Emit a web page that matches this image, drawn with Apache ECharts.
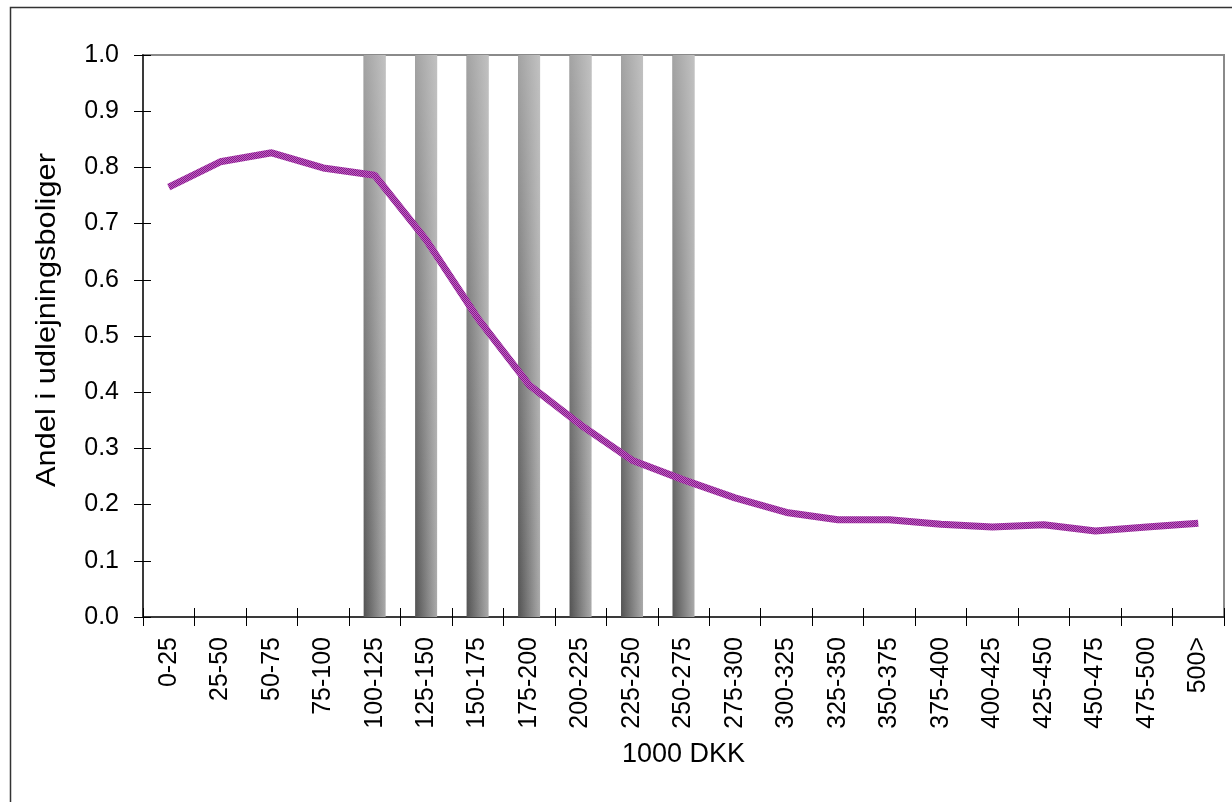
<!DOCTYPE html>
<html>
<head>
<meta charset="utf-8">
<script src="https://cdn.jsdelivr.net/npm/echarts@6/dist/echarts.min.js"></script>
<style>
  html, body { margin: 0; padding: 0; background: #fff; }
  #chart { width: 1232px; height: 802px; }
</style>
</head>
<body>
<div id="chart"></div>
<script>
// Income brackets (1000 DKK)
const categories = ['0-25','25-50','50-75','75-100','100-125','125-150','150-175','175-200',
  '200-225','225-250','250-275','275-300','300-325','325-350','350-375','375-400',
  '400-425','425-450','450-475','475-500','500>'];

// Share of households living in rental housing
const shareRental = [0.765, 0.81, 0.826, 0.799, 0.786, 0.671, 0.532, 0.413, 0.342, 0.279,
  0.244, 0.212, 0.186, 0.173, 0.173, 0.165, 0.160, 0.164, 0.153, 0.160, 0.167];

// Highlighted brackets (full-height shaded columns)
const highlight = [null, null, null, null, 1, 1, 1, 1, 1, 1, 1,
  null, null, null, null, null, null, null, null, null, null];

const yTicks = { min: 0, max: 1, interval: 0.1 };

const FONT = '"Liberation Sans", Arial, sans-serif';

// Fine checkered texture for the line stroke
function checkerPattern() {
  const c = document.createElement('canvas');
  c.width = 2; c.height = 2;
  const g = c.getContext('2d');
  g.fillStyle = '#bf5cc2'; g.fillRect(0, 0, 2, 2);
  g.fillStyle = '#851c8a'; g.fillRect(0, 0, 1, 1); g.fillRect(1, 1, 1, 1);
  return { image: c, repeat: 'repeat' };
}

const chart = echarts.init(document.getElementById('chart'), null, { renderer: 'canvas' });

const grid = { left: 143, right: 8, top: 55, bottom: 185, show: true,
  borderColor: '#8a8a8a', borderWidth: 2, backgroundColor: '#fff' };

const xBase = {
  type: 'category', data: categories, gridIndex: 0, boundaryGap: true
};

chart.setOption({
  animation: false,
  backgroundColor: '#fff',
  grid: grid,
  graphic: [
    { type: 'polyline', shape: { points: [[10.5, 802], [10.5, 7.5], [1232, 7.5]] },
      style: { stroke: '#333', lineWidth: 1.5, fill: null }, z: 0 },
    { type: 'text', x: 47, y: 320, rotation: Math.PI / 2, scaleX: 1.1,
      style: { text: 'Andel i udlejningsboliger', font: '28px ' + FONT, fill: '#000',
        align: 'center', verticalAlign: 'middle' } }
  ],
  xAxis: [
    Object.assign({}, xBase, {
      name: '1000 DKK', nameLocation: 'middle', nameGap: 124,
      nameTextStyle: { fontFamily: FONT, fontSize: 27, color: '#000', verticalAlign: 'top' },
      axisLine: { show: true, onZero: false, lineStyle: { color: '#3a3a3a', width: 2 } },
      axisTick: { show: true, interval: 0, length: 9, lineStyle: { color: '#000', width: 1 } },
      axisLabel: { interval: 0, rotate: 90, margin: 20, fontFamily: FONT, fontSize: 25, color: '#000' },
      splitLine: { show: false }
    }),
    Object.assign({}, xBase, {
      position: 'bottom',
      axisLine: { show: false },
      axisTick: { show: true, inside: true, interval: 0, length: 9, lineStyle: { color: '#000', width: 1 } },
      axisLabel: { show: false },
      splitLine: { show: false }
    })
  ],
  yAxis: [
    {
      type: 'value', min: yTicks.min, max: yTicks.max, interval: yTicks.interval,
      axisLine: { show: true, lineStyle: { color: '#3a3a3a', width: 2 } },
      axisTick: { show: true, length: 9, lineStyle: { color: '#000', width: 1 } },
      axisLabel: { margin: 24, fontFamily: FONT, fontSize: 25, color: '#000',
        formatter: v => v.toFixed(1) },
      splitLine: { show: false }
    },
    {
      type: 'value', min: yTicks.min, max: yTicks.max, interval: yTicks.interval, position: 'left',
      axisLine: { show: false },
      axisTick: { show: true, inside: true, length: 8, lineStyle: { color: '#000', width: 1 } },
      axisLabel: { show: false },
      splitLine: { show: false }
    }
  ],
  series: [
    {
      type: 'bar', data: highlight, barWidth: 22, barGap: '-100%', z: 1,
      itemStyle: { color: new echarts.graphic.LinearGradient(0, 0, 1, 0, [
        { offset: 0, color: '#525252' }, { offset: 1, color: '#aaaaaa' }]) }
    },
    {
      type: 'bar', data: highlight, barWidth: 22, barGap: '-100%', z: 2,
      itemStyle: { color: new echarts.graphic.LinearGradient(0, 0, 0, 1, [
        { offset: 0, color: 'rgba(205,205,205,0.66)' }, { offset: 1, color: 'rgba(205,205,205,0)' }]) }
    },
    {
      type: 'line', data: shareRental, z: 5, showSymbol: false, symbol: 'none',
      lineStyle: { width: 7, color: checkerPattern() },
      itemStyle: { color: '#a63fa9' }
    }
  ]
});
</script>
</body>
</html>
